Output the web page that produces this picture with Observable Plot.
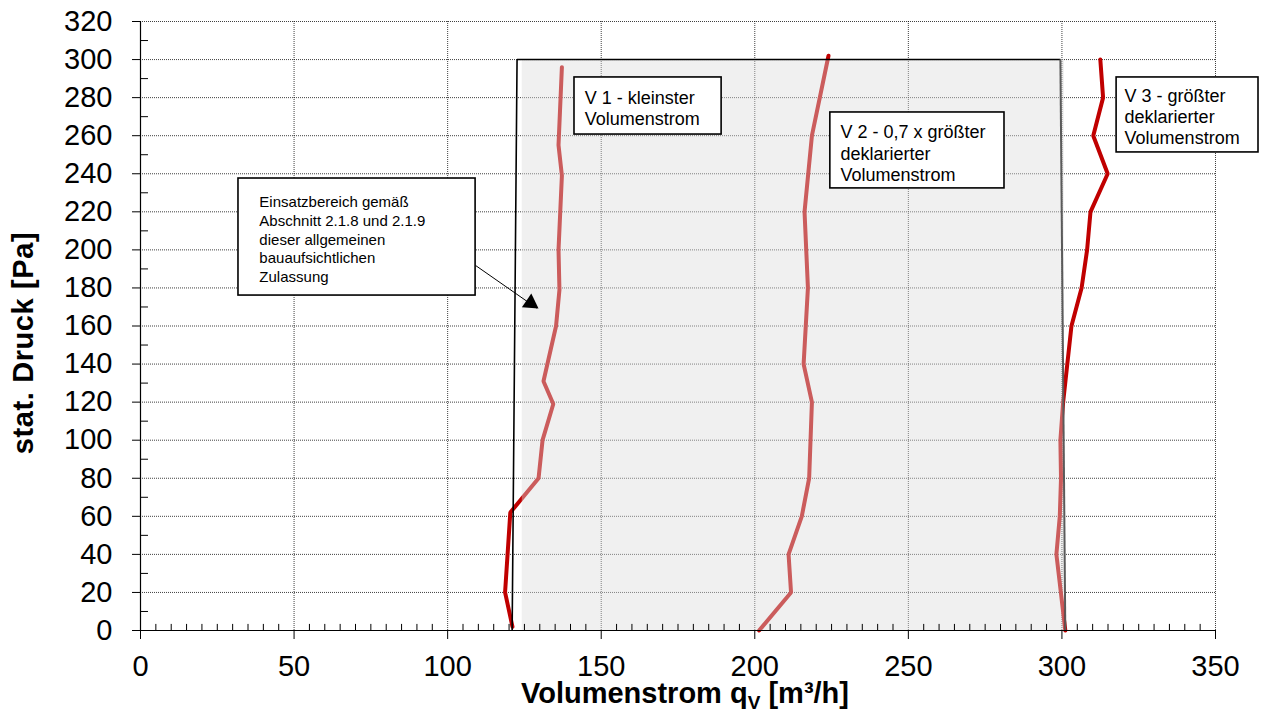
<!DOCTYPE html>
<html><head><meta charset="utf-8">
<script src="https://cdn.jsdelivr.net/npm/d3@7"></script>
<script src="https://cdn.jsdelivr.net/npm/@observablehq/plot@0.6"></script>
<style>body{margin:0;background:#fff;} svg{display:block}</style>
</head><body><div id="chart"></div>
<script>
// ---- data ----
const v1Pressure = [2, 20, 62, 80, 100, 119, 131, 160, 179, 200, 239, 255, 296];
const v1Flow     = [121.1, 118.7, 120.4, 129.6, 130.9, 134.4, 131.2, 135.3, 136.4, 136.1, 137.2, 136.1, 137.2];
const v2Pressure = [0, 20, 40, 60, 80, 120, 140, 180, 220, 260, 302];
const v2Flow     = [201.4, 211.8, 211.0, 215.3, 217.7, 218.6, 215.9, 217.3, 216.2, 218.6, 224.0];
const v3Pressure = [0, 40, 60, 80, 100, 120, 160, 180, 200, 220, 240, 260, 280, 300];
const v3Flow     = [301.1, 298.2, 299.3, 299.7, 299.5, 300.4, 303.1, 306.4, 308.2, 309.3, 314.9, 310.2, 313.4, 312.5];

// operating range (Einsatzbereich)
const rangeFlow = [124.3, 300.8];
const rangePressure = [0, 300];
const boundaryLeftFlow = [121.0, 122.6, 299.5];
const boundaryLeftPressure = [0, 300, 300];
const boundaryRightFlow = [299.5, 301.1];
const boundaryRightPressure = [300, 0];

// tick values
const xTicks = [0, 50, 100, 150, 200, 250, 300, 350];
const yTicks = [0, 20, 40, 60, 80, 100, 120, 140, 160, 180, 200, 220, 240, 260, 280, 300, 320];
const xMinorTicks = d3.range(5, 350, 5).filter(v => v % 50 !== 0);
const yMinorTicks = d3.range(10, 320, 20);

// annotation texts
const labelTexts = [
  "V 1 - kleinster\nVolumenstrom",
  "V 2 - 0,7 x größter\ndeklarierter\nVolumenstrom",
  "V 3 - größter\ndeklarierter\nVolumenstrom",
  "Einsatzbereich gemäß\nAbschnitt 2.1.8 und 2.1.9\ndieser allgemeinen\nbauaufsichtlichen\nZulassung"
];
const xTitle = ["Volumenstrom q", "V", " [m³/h]"];
const yTitle = "stat. Druck [Pa]";

// ---- build tables ----
const toRows = (P, Q) => P.map((p, i) => ({p, q: Q[i]}));
const series = [toRows(v1Pressure, v1Flow), toRows(v2Pressure, v2Flow), toRows(v3Pressure, v3Flow)];
const boundaryLeft = toRows(boundaryLeftPressure, boundaryLeftFlow);
const boundaryRight = toRows(boundaryRightPressure, boundaryRightFlow);

// annotation boxes (data coordinates)
const boxes = [
  {x1: 141.3, x2: 189.2, y1: 260.6, y2: 290.6, tx: 144.6, ty: 284.4, fs: 18, lh: 1.17},
  {x1: 224.6, x2: 281.3, y1: 232.3, y2: 272.2, tx: 227.9, ty: 266.4, fs: 18, lh: 1.17},
  {x1: 317.8, x2: 364.0, y1: 251.2, y2: 290.6, tx: 320.4, ty: 285.3, fs: 18, lh: 1.15},
  {x1: 31.9,  x2: 109.1, y1: 176.0, y2: 237.5, tx: 38.7,  ty: 229.3, fs: 15, lh: 1.245}
].map((b, i) => ({...b, text: labelTexts[i]}));

const arrowLine = [{x1: 109.1, y1: 191.8, x2: 129.0, y2: 169.4}];
const arrowHead = [{x: 127.0, y: 172.0}];

const dotted = {stroke: "#000", strokeOpacity: 0.75, strokeDasharray: "1,1", strokeWidth: 1};

const plot = Plot.plot({
  width: 1261,
  height: 711,
  marginLeft: 140,
  marginRight: 46,
  marginTop: 21,
  marginBottom: 81,
  style: {fontFamily: "'Liberation Sans', Arial, sans-serif", fontSize: "29px", background: "#fff", overflow: "visible", color: "#000"},
  x: {domain: [0, 350]},
  y: {domain: [0, 320]},
  marks: [
    Plot.gridX(xTicks, dotted),
    Plot.gridY(yTicks, dotted),
    ...series.map(s => Plot.line(s, {x: "q", y: "p", stroke: "#c00000", strokeWidth: 4, strokeLinejoin: "miter", strokeLinecap: "round"})),
    Plot.rect([0], {x1: rangeFlow[0], x2: rangeFlow[1], y1: rangePressure[0], y2: rangePressure[1], fill: "#dcdcdc", fillOpacity: 0.42}),
    Plot.line(boundaryLeft, {x: "q", y: "p", stroke: "#000", strokeWidth: 1.6, strokeLinejoin: "miter", strokeLinecap: "butt"}),
    Plot.line(boundaryRight, {x: "q", y: "p", stroke: "#5a5a5a", strokeWidth: 2, strokeLinecap: "butt"}),
    Plot.ruleX(xMinorTicks, {y1: 0, y2: 3.2, stroke: "#000", strokeWidth: 1}),
    Plot.ruleY(yMinorTicks, {x1: 0, x2: 2.6, stroke: "#000", strokeWidth: 1}),
    Plot.ruleY([0], {stroke: "#000", strokeWidth: 1.2}),
    Plot.ruleX([0], {stroke: "#000", strokeWidth: 1.2}),
    Plot.axisX({ticks: xTicks, tickSize: 9, tickPadding: 16, label: null, fontSize: 29, stroke: "#000"}),
    Plot.axisY({ticks: yTicks, tickSize: 8, tickPadding: 20, label: null, fontSize: 29, stroke: "#000"}),
    Plot.rect(boxes, {x1: "x1", x2: "x2", y1: "y1", y2: "y2", fill: "#fff", stroke: "#000", strokeWidth: 1.6}),
    ...boxes.map(b => Plot.text([b], {x: "tx", y: "ty", text: "text", textAnchor: "start", lineAnchor: "top", fontSize: b.fs, lineHeight: b.lh, fill: "#000"})),
    Plot.link(arrowLine, {x1: "x1", y1: "y1", x2: "x2", y2: "y2", stroke: "#000", strokeWidth: 1}),
    Plot.dot(arrowHead, {x: "x", y: "y", symbol: "triangle", r: 6.2, fill: "#000", stroke: "none", rotate: 124.4})
  ]
});

const svg = d3.select(plot);
const xt = svg.append("text")
  .attr("x", 685).attr("y", 703)
  .attr("text-anchor", "middle")
  .attr("font-weight", "bold")
  .attr("font-size", 29)
  .attr("fill", "#000");
xt.append("tspan").text(xTitle[0]);
xt.append("tspan").attr("font-size", 19).attr("dy", 6).text(xTitle[1]);
xt.append("tspan").attr("dy", -6).text(xTitle[2]);

svg.append("text")
  .attr("transform", "translate(33,343) rotate(-90)")
  .attr("text-anchor", "middle")
  .attr("font-weight", "bold")
  .attr("font-size", 29)
  .attr("letter-spacing", "0.6px")
  .attr("fill", "#000")
  .text(yTitle);

document.getElementById("chart").appendChild(plot);
</script>
</body></html>
